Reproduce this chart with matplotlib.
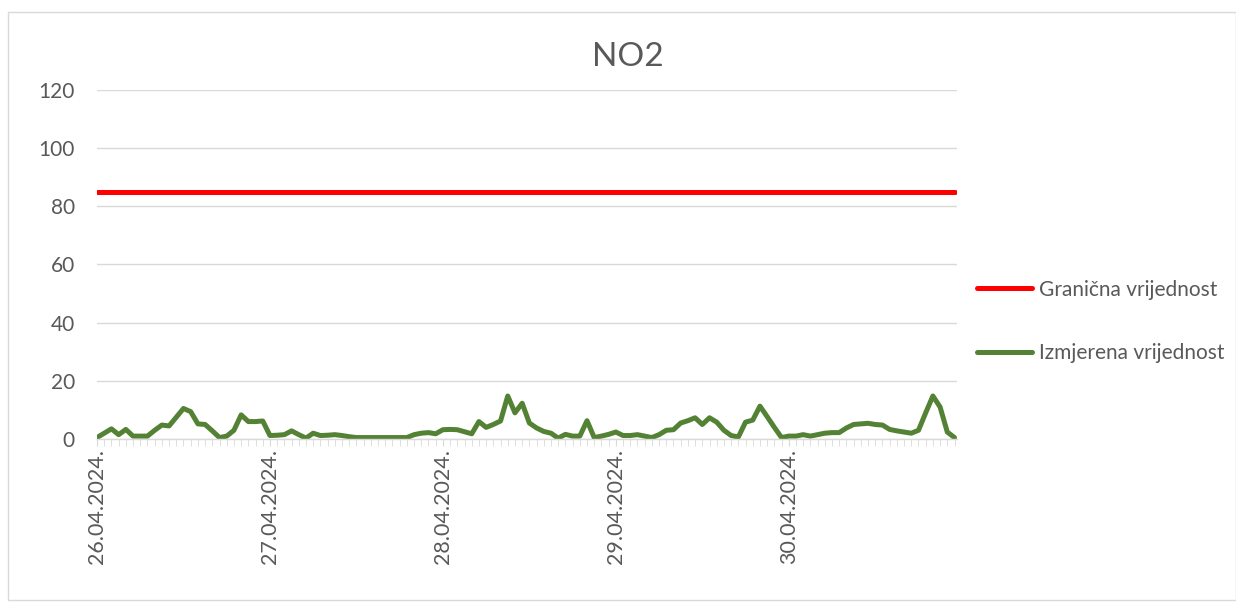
import matplotlib.pyplot as plt
from matplotlib.patches import Rectangle

plt.rcParams['font.family'] = ['Lato', 'DejaVu Sans']

# hourly NO2 measurements, 26.04.2024 00h - 30.04.2024 23h
no2 = [0.5, 2, 3.5, 1.5, 3.3, 1, 1, 1, 3, 4.8, 4.5, 7.5,
       10.5, 9.4, 5.2, 5, 2.8, 0.5, 1, 3, 8.3, 6, 6, 6.2,
       1.2, 1.3, 1.5, 2.8, 1.5, 0.3, 2, 1.2, 1.3, 1.5, 1.2, 0.8,
       0.5, 0.5, 0.5, 0.5, 0.5, 0.5, 0.5, 0.5, 1.5, 2, 2.2, 1.8,
       3.2, 3.3, 3.2, 2.5, 1.8, 6, 4, 5, 6.2, 14.8, 9, 12.3,
       5.5, 3.8, 2.6, 2, 0.3, 1.6, 1, 1, 6.3, 0.5, 1, 1.6,
       2.4, 1.2, 1.2, 1.5, 1, 0.5, 1.5, 3, 3.2, 5.5, 6.3, 7.3,
       5, 7.3, 5.8, 3, 1.2, 0.7, 5.8, 6.5, 11.3, 7.7, 4, 0.5,
       1, 1, 1.5, 1, 1.5, 2, 2.2, 2.2, 3.8, 5, 5.2, 5.4,
       5, 4.8, 3.3, 2.8, 2.4, 2, 3, 9, 14.8, 11, 2.4, 0.5]
limit = 85
day_labels = ['26.04.2024.', '27.04.2024.', '28.04.2024.', '29.04.2024.', '30.04.2024.']

hours = list(range(len(no2)))
gray = '#595959'

fig = plt.figure(figsize=(12.36, 6.10), dpi=100)
ax = fig.add_axes([0.0785, 0.2803, 0.6955, 0.5722])

ax.plot(hours, [limit] * len(hours), color='#ff0000', lw=3.6, label='Granična vrijednost',
        solid_capstyle='round')
ax.plot(hours, no2, color='#548235', lw=3.6, label='Izmjerena vrijednost',
        solid_capstyle='round', solid_joinstyle='round')

ax.set_xlim(0, len(hours) - 0.7)
ax.set_ylim(0, 120)
ax.set_yticks(range(0, 121, 20))
ax.grid(axis='y', color='#d9d9d9', lw=1)
ax.set_axisbelow(True)
for s in ['top', 'right', 'left']:
    ax.spines[s].set_visible(False)
ax.spines['bottom'].set_color('#d9d9d9')
ax.spines['bottom'].set_linewidth(1)

ax.set_xticks(range(0, len(hours), 24))
ax.set_xticklabels(day_labels, rotation=90)
ax.set_xticks(hours, minor=True)
ax.tick_params(axis='x', which='both', length=5, color='#d9d9d9', labelcolor=gray,
               labelsize=15.5, pad=2)
ax.tick_params(axis='y', length=0, labelcolor=gray, labelsize=15, pad=16)

fig.text(628 / 1236, 1 - 57 / 610, 'NO2', fontsize=24, color=gray,
         ha='center', va='center')

ax.legend(loc='center left', bbox_to_anchor=(1.0233, 0.337), frameon=False,
          fontsize=15, labelcolor=gray, handlelength=2.64, handletextpad=0.33,
          labelspacing=2.1, borderaxespad=0, borderpad=0)

# outer chart border
fig.patches.append(Rectangle((8 / 1236, 10 / 610), 1 - 8 / 1236, 1 - 22 / 610,
                             transform=fig.transFigure, fill=False,
                             edgecolor='#d9d9d9', lw=1))

fig.savefig('out.png', dpi=100)
